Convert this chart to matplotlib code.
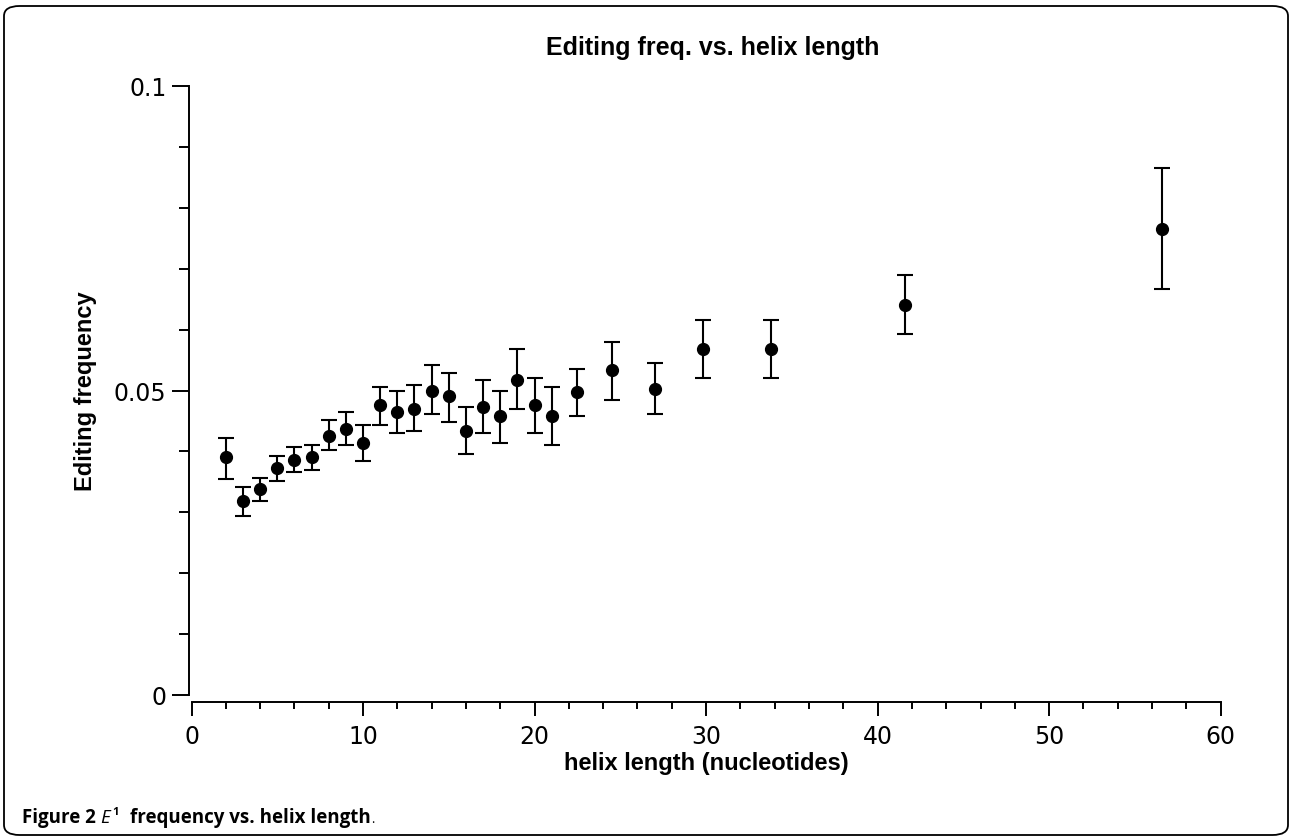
import matplotlib
matplotlib.use("Agg")
import matplotlib.pyplot as plt
from matplotlib.patches import FancyBboxPatch
from matplotlib.ticker import MultipleLocator, FixedLocator

# Helix length bins (nucleotides) and mean editing frequency with error bounds
helix_length = [2, 3, 4, 5, 6, 7, 8, 9, 10, 11, 12, 13, 14, 15, 16, 17, 18, 19, 20, 21,
                22.5, 24.5, 27, 29.8, 33.8, 41.6, 56.6]
edit_freq = [0.0390, 0.0318, 0.0339, 0.0372, 0.0386, 0.0390, 0.0425, 0.0437, 0.0413, 0.0476,
             0.0464, 0.0470, 0.0500, 0.0491, 0.0434, 0.0473, 0.0458, 0.0518, 0.0476, 0.0458,
             0.0497, 0.0533, 0.0503, 0.0568, 0.0568, 0.0641, 0.0765]
err_upper = [0.0422, 0.0342, 0.0356, 0.0392, 0.0407, 0.0410, 0.0452, 0.0464, 0.0443, 0.0506,
             0.0499, 0.0509, 0.0542, 0.0529, 0.0473, 0.0518, 0.0500, 0.0568, 0.0521, 0.0506,
             0.0536, 0.0580, 0.0545, 0.0615, 0.0615, 0.0690, 0.0866]
err_lower = [0.0354, 0.0294, 0.0318, 0.0351, 0.0366, 0.0369, 0.0402, 0.0411, 0.0384, 0.0443,
             0.0431, 0.0434, 0.0461, 0.0449, 0.0395, 0.0431, 0.0413, 0.0470, 0.0431, 0.0410,
             0.0458, 0.0485, 0.0461, 0.0521, 0.0521, 0.0593, 0.0666]

y_ticks = [0, 0.05, 0.1]
y_tick_labels = ["0", "0.05", "0.1"]
x_ticks = [0, 10, 20, 30, 40, 50, 60]

W, H = 1290, 837
fig = plt.figure(figsize=(W / 100, H / 100), dpi=100)


def px(x, y):
    """Pixel position (from top-left) to figure fraction."""
    return x / W, 1 - y / H


# rounded frame around the whole figure
frame = FancyBboxPatch((4 / W, 1 / H), 1284 / W, 829 / H,
                       boxstyle="round,pad=0,rounding_size=0.012",
                       transform=fig.transFigure, fill=False,
                       edgecolor="black", linewidth=1.3, clip_on=False)
fig.patches.append(frame)

ax = fig.add_axes([191.5 / W, (H - 696) / H, (1220.7 - 191.5) / W, (696 - 87) / H])

yerr = [[m - lo for m, lo in zip(edit_freq, err_lower)],
        [hi - m for m, hi in zip(edit_freq, err_upper)]]
ax.errorbar(helix_length, edit_freq, yerr=yerr, fmt="o", color="black",
            markersize=8.5, elinewidth=1.5, capsize=5.8, capthick=1.5, clip_on=False)

ax.set_xlim(0, 60)
ax.set_ylim(0, 0.1)

for side in ("top", "right"):
    ax.spines[side].set_visible(False)
ax.spines["left"].set_position(("outward", 2))
ax.spines["bottom"].set_position(("outward", 5))
ax.spines["left"].set_bounds(0, 0.1)
ax.spines["bottom"].set_bounds(0, 60)
ax.spines["left"].set_linewidth(1.4)
ax.spines["bottom"].set_linewidth(1.4)

ax.yaxis.set_major_locator(FixedLocator(y_ticks))
ax.set_yticklabels(y_tick_labels)
ax.yaxis.set_minor_locator(MultipleLocator(0.01))
ax.xaxis.set_major_locator(FixedLocator(x_ticks))
ax.xaxis.set_minor_locator(MultipleLocator(2))

ax.tick_params(axis="both", which="major", direction="out", width=1.4, labelsize=17,
               color="black")
ax.tick_params(axis="y", which="major", length=12, pad=4)
ax.tick_params(axis="y", which="minor", length=7, width=1.4)
ax.tick_params(axis="x", which="major", length=10, pad=6)
ax.tick_params(axis="x", which="minor", length=5, width=1.4)

bold_font = dict(family="Liberation Sans", weight="bold")
fig.text(*px(713, 55), "Editing freq. vs. helix length", fontsize=18,
         ha="center", va="baseline", **bold_font)
ax.set_xlabel("helix length (nucleotides)", fontsize=17, labelpad=2, **bold_font)
ax.set_ylabel("Editing frequency", fontsize=17, labelpad=12, **bold_font)

# figure caption
cap = dict(family="Open Sans", va="baseline", ha="left")
fig.text(*px(22, 823), "Figure 2", fontsize=13.5, weight="bold", **cap)
fig.text(*px(100, 823), "E", fontsize=13.5, style="italic", weight="normal", **cap)
fig.text(*px(112, 815), "1", fontsize=8, weight="bold", **cap)
fig.text(*px(130, 823), "frequency vs. helix length", fontsize=13.5, weight="bold", **cap)
fig.text(*px(371, 823), ".", fontsize=9, weight="normal", **cap)

fig.savefig("out.png", dpi=100)
